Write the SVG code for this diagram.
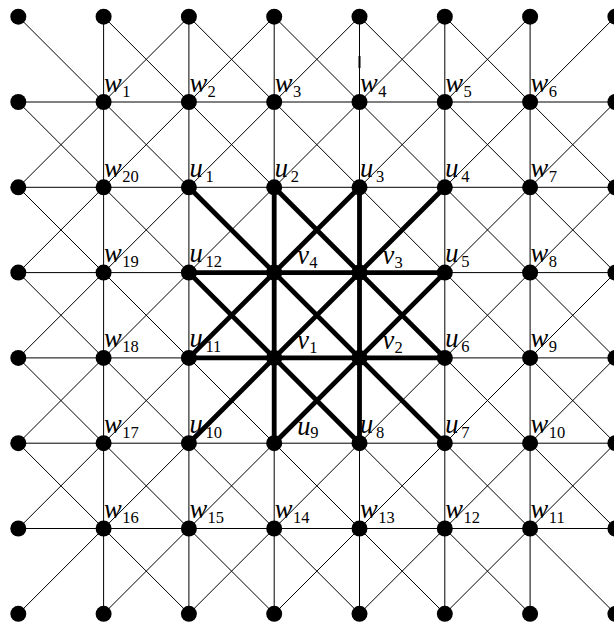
<svg xmlns="http://www.w3.org/2000/svg" width="614" height="623" viewBox="0 0 614 623">
<style>
.t{stroke:#000;stroke-width:1;fill:none}
.k{stroke:#000;stroke-width:4.8;fill:none;stroke-linecap:round}
.n{fill:#000}
.l{font-family:"Liberation Serif",serif;font-size:26.5px;font-style:italic;fill:#000}
.s{font-size:16.5px;font-style:normal}
</style>
<rect width="614" height="623" fill="#fff"/>
<g id="connectors">
<g id="thin">
<path class="t" d="M103.6 16.7V613.8M188.9 16.7V613.8M274.2 16.7V613.8M359.5 16.7V613.8M444.8 16.7V613.8M530.1 16.7V613.8"/>
<path class="t" d="M18.3 102H615.4M18.3 187.3H615.4M18.3 272.6H615.4M18.3 357.9H615.4M18.3 443.2H615.4M18.3 528.5H615.4"/>
<path class="t" d="M18.3 16.7L615.4 613.8M103.6 16.7L615.4 528.5M188.9 16.7L615.4 443.2M274.2 16.7L615.4 357.9M359.5 16.7L615.4 272.6M444.8 16.7L615.4 187.3M18.3 102L530.1 613.8M18.3 187.3L444.8 613.8M18.3 272.6L359.5 613.8M18.3 357.9L274.2 613.8M18.3 443.2L188.9 613.8"/>
<path class="t" d="M188.9 16.7L18.3 187.3M274.2 16.7L18.3 272.6M359.5 16.7L18.3 357.9M444.8 16.7L18.3 443.2M530.1 16.7L18.3 528.5M615.4 16.7L18.3 613.8M615.4 102L103.6 613.8M615.4 187.3L188.9 613.8M615.4 272.6L274.2 613.8M615.4 357.9L359.5 613.8M615.4 443.2L444.8 613.8"/>
<path stroke="#000" stroke-width="2" d="M359.5 56V68"/>
</g>
<g id="thick">
<path class="k" d="M188.9 272.6H444.8M188.9 357.9H444.8M274.2 187.3V443.2M359.5 187.3V443.2"/>
<path class="k" d="M188.9 187.3L444.8 443.2M444.8 187.3L188.9 443.2M274.2 187.3L444.8 357.9M359.5 187.3L188.9 357.9M188.9 272.6L359.5 443.2M444.8 272.6L274.2 443.2"/>
</g>
</g>
<g id="nodes">
<g id="n-0-0"><circle class="n" cx="18.3" cy="16.7" r="8"/></g>
<g id="n-1-0"><circle class="n" cx="103.6" cy="16.7" r="8"/></g>
<g id="n-2-0"><circle class="n" cx="188.9" cy="16.7" r="8"/></g>
<g id="n-3-0"><circle class="n" cx="274.2" cy="16.7" r="8"/></g>
<g id="n-4-0"><circle class="n" cx="359.5" cy="16.7" r="8"/></g>
<g id="n-5-0"><circle class="n" cx="444.8" cy="16.7" r="8"/></g>
<g id="n-6-0"><circle class="n" cx="530.1" cy="16.7" r="8"/></g>
<g id="n-7-0"><circle class="n" cx="615.4" cy="16.7" r="8"/></g>

<g id="n-0-1"><circle class="n" cx="18.3" cy="102" r="8"/></g>
<g id="w1"><circle class="n" cx="103.6" cy="102" r="8"/><text class="l" x="104.1" y="91.5">w<tspan class="s" x="122.3" y="96.5">1</tspan></text></g>
<g id="w2"><circle class="n" cx="188.9" cy="102" r="8"/><text class="l" x="189.4" y="91.5">w<tspan class="s" x="207.6" y="96.5">2</tspan></text></g>
<g id="w3"><circle class="n" cx="274.2" cy="102" r="8"/><text class="l" x="274.7" y="91.5">w<tspan class="s" x="292.9" y="96.5">3</tspan></text></g>
<g id="w4"><circle class="n" cx="359.5" cy="102" r="8"/><text class="l" x="360" y="91.5">w<tspan class="s" x="378.2" y="96.5">4</tspan></text></g>
<g id="w5"><circle class="n" cx="444.8" cy="102" r="8"/><text class="l" x="445.3" y="91.5">w<tspan class="s" x="463.5" y="96.5">5</tspan></text></g>
<g id="w6"><circle class="n" cx="530.1" cy="102" r="8"/><text class="l" x="530.6" y="91.5">w<tspan class="s" x="548.8" y="96.5">6</tspan></text></g>
<g id="n-7-1"><circle class="n" cx="615.4" cy="102" r="8"/></g>

<g id="n-0-2"><circle class="n" cx="18.3" cy="187.3" r="8"/></g>
<g id="w20"><circle class="n" cx="103.6" cy="187.3" r="8"/><text class="l" x="104.1" y="176.8">w<tspan class="s" x="122.3" y="181.8">20</tspan></text></g>
<g id="u1"><circle class="n" cx="188.9" cy="187.3" r="8"/><text class="l" x="189.4" y="176.8">u<tspan class="s" x="205.4" y="181.8">1</tspan></text></g>
<g id="u2"><circle class="n" cx="274.2" cy="187.3" r="8"/><text class="l" x="274.7" y="176.8">u<tspan class="s" x="290.7" y="181.8">2</tspan></text></g>
<g id="u3"><circle class="n" cx="359.5" cy="187.3" r="8"/><text class="l" x="360" y="176.8">u<tspan class="s" x="376" y="181.8">3</tspan></text></g>
<g id="u4"><circle class="n" cx="444.8" cy="187.3" r="8"/><text class="l" x="445.3" y="176.8">u<tspan class="s" x="461.3" y="181.8">4</tspan></text></g>
<g id="w7"><circle class="n" cx="530.1" cy="187.3" r="8"/><text class="l" x="530.6" y="176.8">w<tspan class="s" x="548.8" y="181.8">7</tspan></text></g>
<g id="n-7-2"><circle class="n" cx="615.4" cy="187.3" r="8"/></g>

<g id="n-0-3"><circle class="n" cx="18.3" cy="272.6" r="8"/></g>
<g id="w19"><circle class="n" cx="103.6" cy="272.6" r="8"/><text class="l" x="104.1" y="262.1">w<tspan class="s" x="122.3" y="267.1">19</tspan></text></g>
<g id="u12"><circle class="n" cx="188.9" cy="272.6" r="8"/><text class="l" x="189.4" y="262.1">u<tspan class="s" x="205.4" y="267.1">12</tspan></text></g>
<g id="v4"><circle class="n" cx="274.2" cy="272.6" r="8"/><text class="l" x="297.2" y="264.1">v<tspan class="s" x="309.2" y="267.6">4</tspan></text></g>
<g id="v3"><circle class="n" cx="359.5" cy="272.6" r="8"/><text class="l" x="382.5" y="264.1">v<tspan class="s" x="394.5" y="267.6">3</tspan></text></g>
<g id="u5"><circle class="n" cx="444.8" cy="272.6" r="8"/><text class="l" x="445.3" y="262.1">u<tspan class="s" x="461.3" y="267.1">5</tspan></text></g>
<g id="w8"><circle class="n" cx="530.1" cy="272.6" r="8"/><text class="l" x="530.6" y="262.1">w<tspan class="s" x="548.8" y="267.1">8</tspan></text></g>
<g id="n-7-3"><circle class="n" cx="615.4" cy="272.6" r="8"/></g>

<g id="n-0-4"><circle class="n" cx="18.3" cy="357.9" r="8"/></g>
<g id="w18"><circle class="n" cx="103.6" cy="357.9" r="8"/><text class="l" x="104.1" y="347.4">w<tspan class="s" x="122.3" y="352.4">18</tspan></text></g>
<g id="u11"><circle class="n" cx="188.9" cy="357.9" r="8"/><text class="l" x="189.4" y="347.4">u<tspan class="s" x="205.4" y="352.4">11</tspan></text></g>
<g id="v1"><circle class="n" cx="274.2" cy="357.9" r="8"/><text class="l" x="297.2" y="349.4">v<tspan class="s" x="309.2" y="352.9">1</tspan></text></g>
<g id="v2"><circle class="n" cx="359.5" cy="357.9" r="8"/><text class="l" x="382.5" y="349.4">v<tspan class="s" x="394.5" y="352.9">2</tspan></text></g>
<g id="u6"><circle class="n" cx="444.8" cy="357.9" r="8"/><text class="l" x="445.3" y="347.4">u<tspan class="s" x="461.3" y="352.4">6</tspan></text></g>
<g id="w9"><circle class="n" cx="530.1" cy="357.9" r="8"/><text class="l" x="530.6" y="347.4">w<tspan class="s" x="548.8" y="352.4">9</tspan></text></g>
<g id="n-7-4"><circle class="n" cx="615.4" cy="357.9" r="8"/></g>

<g id="n-0-5"><circle class="n" cx="18.3" cy="443.2" r="8"/></g>
<g id="w17"><circle class="n" cx="103.6" cy="443.2" r="8"/><text class="l" x="104.1" y="432.7">w<tspan class="s" x="122.3" y="437.7">17</tspan></text></g>
<g id="u10"><circle class="n" cx="188.9" cy="443.2" r="8"/><text class="l" x="189.4" y="432.7">u<tspan class="s" x="205.4" y="437.7">10</tspan></text></g>
<g id="u9"><circle class="n" cx="274.2" cy="443.2" r="8"/><text class="l" x="297.2" y="434.7">u<tspan class="s" x="310.2" y="438.2">9</tspan></text></g>
<g id="u8"><circle class="n" cx="359.5" cy="443.2" r="8"/><text class="l" x="360" y="432.7">u<tspan class="s" x="376" y="437.7">8</tspan></text></g>
<g id="u7"><circle class="n" cx="444.8" cy="443.2" r="8"/><text class="l" x="445.3" y="432.7">u<tspan class="s" x="461.3" y="437.7">7</tspan></text></g>
<g id="w10"><circle class="n" cx="530.1" cy="443.2" r="8"/><text class="l" x="530.6" y="432.7">w<tspan class="s" x="548.8" y="437.7">10</tspan></text></g>
<g id="n-7-5"><circle class="n" cx="615.4" cy="443.2" r="8"/></g>

<g id="n-0-6"><circle class="n" cx="18.3" cy="528.5" r="8"/></g>
<g id="w16"><circle class="n" cx="103.6" cy="528.5" r="8"/><text class="l" x="104.1" y="518">w<tspan class="s" x="122.3" y="523">16</tspan></text></g>
<g id="w15"><circle class="n" cx="188.9" cy="528.5" r="8"/><text class="l" x="189.4" y="518">w<tspan class="s" x="207.6" y="523">15</tspan></text></g>
<g id="w14"><circle class="n" cx="274.2" cy="528.5" r="8"/><text class="l" x="274.7" y="518">w<tspan class="s" x="292.9" y="523">14</tspan></text></g>
<g id="w13"><circle class="n" cx="359.5" cy="528.5" r="8"/><text class="l" x="360" y="518">w<tspan class="s" x="378.2" y="523">13</tspan></text></g>
<g id="w12"><circle class="n" cx="444.8" cy="528.5" r="8"/><text class="l" x="445.3" y="518">w<tspan class="s" x="463.5" y="523">12</tspan></text></g>
<g id="w11"><circle class="n" cx="530.1" cy="528.5" r="8"/><text class="l" x="530.6" y="518">w<tspan class="s" x="548.8" y="523">11</tspan></text></g>
<g id="n-7-6"><circle class="n" cx="615.4" cy="528.5" r="8"/></g>

<g id="n-0-7"><circle class="n" cx="18.3" cy="613.8" r="8"/></g>
<g id="n-1-7"><circle class="n" cx="103.6" cy="613.8" r="8"/></g>
<g id="n-2-7"><circle class="n" cx="188.9" cy="613.8" r="8"/></g>
<g id="n-3-7"><circle class="n" cx="274.2" cy="613.8" r="8"/></g>
<g id="n-4-7"><circle class="n" cx="359.5" cy="613.8" r="8"/></g>
<g id="n-5-7"><circle class="n" cx="444.8" cy="613.8" r="8"/></g>
<g id="n-6-7"><circle class="n" cx="530.1" cy="613.8" r="8"/></g>
<g id="n-7-7"><circle class="n" cx="615.4" cy="613.8" r="8"/></g>
</g>
</svg>
